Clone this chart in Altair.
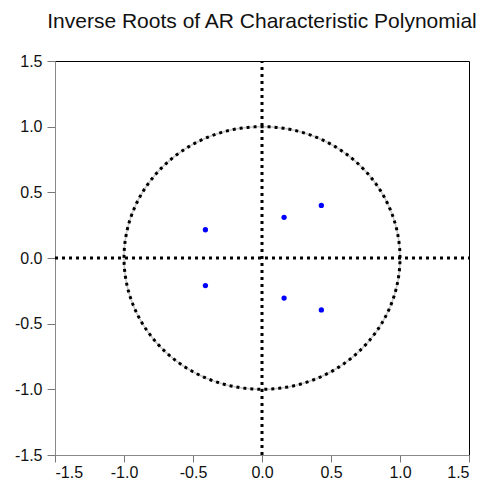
import altair as alt
import numpy as np
import pandas as pd

# AR inverse roots (real, imaginary)
root_re = [-0.41, -0.41, 0.16, 0.16, 0.43, 0.43]
root_im = [0.215, -0.21, 0.31, -0.305, 0.40, -0.395]
tick_vals = [-1.5, -1.0, -0.5, 0.0, 0.5, 1.0, 1.5]

roots = pd.DataFrame({"re": root_re, "im": root_im})

# unit circle reference (geometry)
ang = np.linspace(0, 2 * np.pi, 361)
circle = pd.DataFrame({"re": np.cos(ang), "im": np.sin(ang), "o": np.arange(361)})

hline = pd.DataFrame({"re": [-1.5, 1.5], "im": [0.0, 0.0]})
vline = pd.DataFrame({"re": [0.0, 0.0], "im": [-1.5, 1.5]})

xs = alt.Scale(domain=[-1.5, 1.5], nice=False, zero=False)
ys = alt.Scale(domain=[-1.5, 1.5], nice=False, zero=False)

lab = "(datum.value < 0 ? '-' : '') + format(abs(datum.value), '.1f')"

xax = alt.Axis(values=tick_vals, labelExpr=lab, title=None, grid=False,
               labelFontSize=16, labelColor="#111", tickColor="#777",
               domainColor="#888", tickSize=7, labelPadding=2,
               labelFont="Liberation Sans")
yax = alt.Axis(values=tick_vals, labelExpr=lab, title=None, grid=False,
               labelFontSize=16, labelColor="#111", tickColor="#777",
               domainColor="#888", tickSize=8, labelPadding=5,
               labelFont="Liberation Sans")

X = alt.X("re:Q", scale=xs, axis=xax)
Y = alt.Y("im:Q", scale=ys, axis=yax)

grey_circle = alt.Chart(circle).mark_line(color="#c8c8c8", strokeWidth=1.5).encode(
    x=X, y=Y, order="o:Q")
dot_circle = alt.Chart(circle).mark_line(color="black", strokeWidth=3, strokeDash=[3, 4]).encode(
    x=X, y=Y, order="o:Q")
h = alt.Chart(hline).mark_line(color="black", strokeWidth=3, strokeDash=[3, 4]).encode(x=X, y=Y)
v = alt.Chart(vline).mark_line(color="black", strokeWidth=3, strokeDash=[3, 4]).encode(x=X, y=Y)
pts = alt.Chart(roots).mark_circle(color="#0000ff", opacity=1, size=28).encode(x=X, y=Y)

chart = alt.layer(grey_circle, dot_circle, h, v, pts).properties(
    width=414, height=394,
    title=alt.TitleParams("Inverse Roots of AR Characteristic Polynomial",
                          fontSize=21, font="Liberation Sans", fontWeight="normal",
                          anchor="middle", color="#111", offset=21),
    autosize=alt.AutoSizeParams(type="none"),
    padding={"left": 47, "top": 53, "right": 14, "bottom": 26},
).configure_view(stroke="black", strokeWidth=1)

chart.save("out.html", embed_options={"renderer": "svg", "actions": False})
